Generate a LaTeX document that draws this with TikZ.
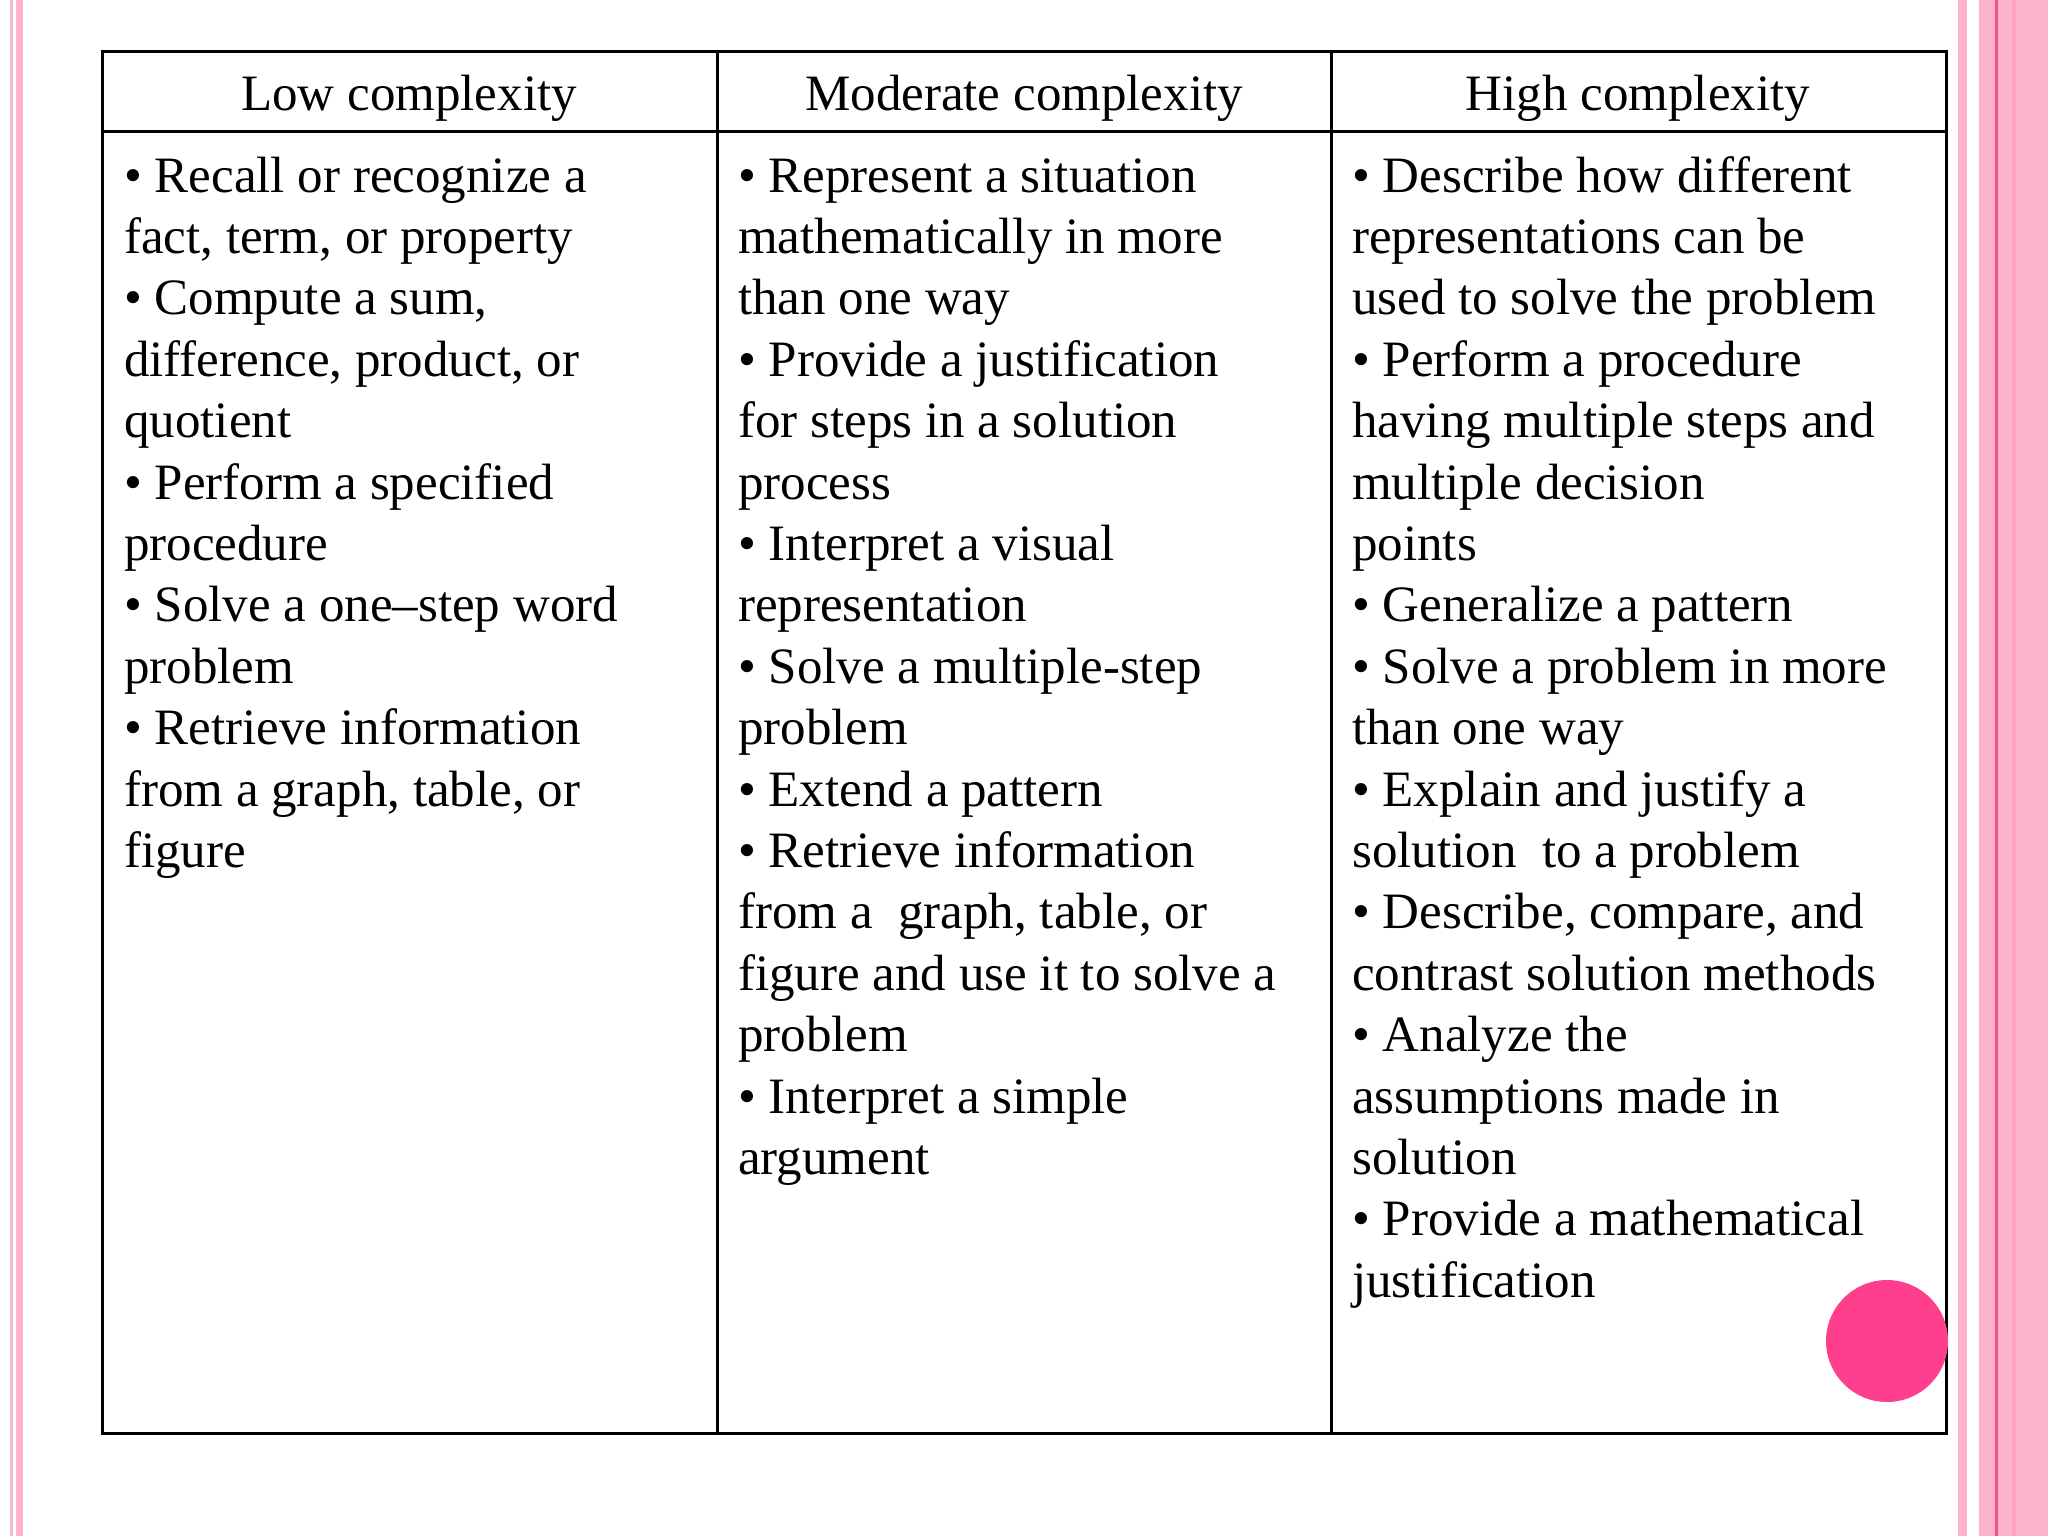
\documentclass[tikz,border=0pt]{standalone}
\usepackage{fontspec}
\setmainfont{Liberation Serif}
\definecolor{lpink}{HTML}{FDB3C9}
\definecolor{dpink}{HTML}{EE4F8F}
\definecolor{mpink}{HTML}{FCA2BE}
\definecolor{dot}{HTML}{FF3F8E}
\begin{document}
\begin{tikzpicture}[x=1pt,y=-1pt,
  txt/.style={anchor=base west,inner sep=0pt,font=\fontsize{51}{61}\selectfont},
  hd/.style={anchor=base,inner sep=0pt,font=\fontsize{51}{61}\selectfont},
  rule/.style={line width=3pt,black}]
\useasboundingbox (0,0) rectangle (2048,1536);
\fill[white] (0,0) rectangle (2048,1536);
\fill[lpink] (10,0) rectangle (13,1536);
\fill[lpink] (16,0) rectangle (23,1536);
\fill[lpink] (1958,0) rectangle (1967,1536);
\fill[lpink] (1979,0) rectangle (2048,1536);
\fill[mpink] (2012,0) rectangle (2016,1536);
\fill[dpink] (1995,0) rectangle (1998,1536);
\draw[rule] (102,52) rectangle (1946,1433);
\draw[rule] (102,132) -- (1946,132);
\draw[rule] (717,52) -- (717,1433);
\draw[rule] (1331,52) -- (1331,1433);
\node[hd] (h1) at (409,111) {Low complexity};
\node[hd] (h2) at (1024,111) {Moderate complexity};
\node[hd] (h3) at (1638,111) {High complexity};
\foreach \t [count=\i] in {{• Recall or recognize a},{fact, term, or property},{• Compute a sum,},{difference, product, or},{quotient},{• Perform a specified},{procedure},{• Solve a one–step word},{problem},{• Retrieve information},{from a graph, table, or},{figure}}
  \node[txt] (a\i) at (124,{192+61.4*(\i-1)}) {\t};
\foreach \t [count=\i] in {{• Represent a situation},{mathematically in more},{than one way},{• Provide a justification},{for steps in a solution},{process},{• Interpret a visual},{representation},{• Solve a multiple-step},{problem},{• Extend a pattern},{• Retrieve information},{from a\ \ graph, table, or},{figure and use it to solve a},{problem},{• Interpret a simple},{argument}}
  \node[txt] (b\i) at (738,{192+61.4*(\i-1)}) {\t};
\foreach \t [count=\i] in {{• Describe how different},{representations can be},{used to solve the problem},{• Perform a procedure},{having multiple steps and},{multiple decision},{points},{• Generalize a pattern},{• Solve a problem in more},{than one way},{• Explain and justify a},{solution\ \ to a problem},{• Describe, compare, and},{contrast solution methods},{• Analyze the},{assumptions made in},{solution},{• Provide a mathematical},{justification}}
  \node[txt] (c\i) at (1352,{192+61.4*(\i-1)}) {\t};
\fill[dot] (1887,1341) circle (61) node (dotc) {};
\end{tikzpicture}
\end{document}
